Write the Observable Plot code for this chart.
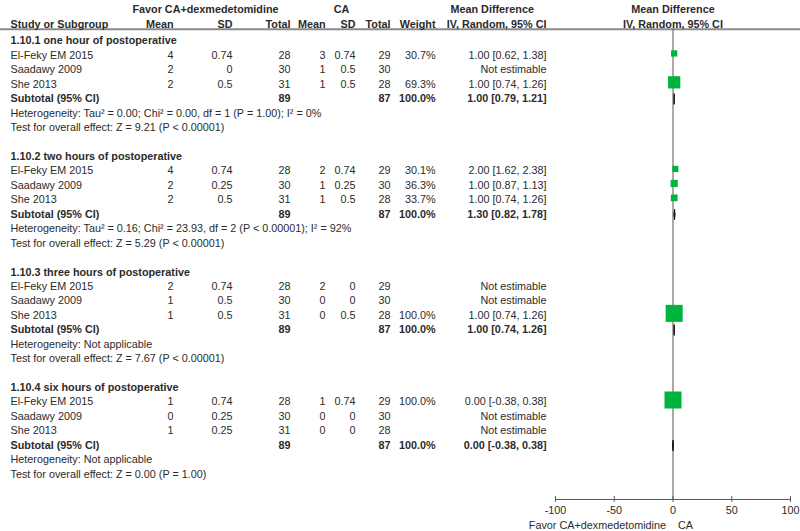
<!DOCTYPE html>
<html>
<head>
<meta charset="utf-8">
<script src="https://cdn.jsdelivr.net/npm/d3@7"></script>
<script src="https://cdn.jsdelivr.net/npm/@observablehq/plot@0.6"></script>
<style>
  html, body { margin: 0; padding: 0; background: #fff; }
  #chart svg { display: block; }
</style>
</head>
<body>
<div id="chart"></div>
<script>
// ---------------- DATA ----------------
const sections = [
  "1.10.1 one hour of postoperative",
  "1.10.2 two hours of postoperative",
  "1.10.3 three hours of postoperative",
  "1.10.4 six hours of postoperative"
];
const studies = ["El-Feky EM 2015", "Saadawy 2009", "She 2013"];

// per study row, ordered section by section
const expMean  = [4, 2, 2,   4, 2, 2,      2, 1, 1,    1, 0, 1];
const expSD    = [0.74, 0, 0.5,  0.74, 0.25, 0.5,  0.74, 0.5, 0.5,  0.74, 0.25, 0.25];
const expTotal = [28, 30, 31,  28, 30, 31,  28, 30, 31,  28, 30, 31];
const ctlMean  = [3, 1, 1,   2, 1, 1,      2, 0, 0,    1, 0, 0];
const ctlSD    = [0.74, 0.5, 0.5,  0.74, 0.25, 0.5,  0, 0, 0.5,  0.74, 0, 0];
const ctlTotal = [29, 30, 28,  29, 30, 28,  29, 30, 28,  29, 30, 28];
const weight   = [30.7, null, 69.3,  30.1, 36.3, 33.7,  null, null, 100.0,  100.0, null, null];
const md       = [1.00, null, 1.00,  2.00, 1.00, 1.00,  null, null, 1.00,  0.00, null, null];
const mdLo     = [0.62, null, 0.74,  1.62, 0.87, 0.74,  null, null, 0.74,  -0.38, null, null];
const mdHi     = [1.38, null, 1.26,  2.38, 1.13, 1.26,  null, null, 1.26,  0.38, null, null];

// subtotals per section
const subExpTotal = [89, 89, 89, 89];
const subCtlTotal = [87, 87, 87, 87];
const subWeight   = [100.0, 100.0, 100.0, 100.0];
const subMD = [1.00, 1.30, 1.00, 0.00];
const subLo = [0.79, 0.82, 0.74, -0.38];
const subHi = [1.21, 1.78, 1.26, 0.38];
const heterogeneity = [
  "Heterogeneity: Tau² = 0.00; Chi² = 0.00, df = 1 (P = 1.00); I² = 0%",
  "Heterogeneity: Tau² = 0.16; Chi² = 23.93, df = 2 (P < 0.00001); I² = 92%",
  "Heterogeneity: Not applicable",
  "Heterogeneity: Not applicable"
];
const overallEffect = [
  "Test for overall effect: Z = 9.21 (P < 0.00001)",
  "Test for overall effect: Z = 5.29 (P < 0.00001)",
  "Test for overall effect: Z = 7.67 (P < 0.00001)",
  "Test for overall effect: Z = 0.00 (P = 1.00)"
];

const axisTicks = [-100, -50, 0, 50, 100];
const favorLeft = "Favor CA+dexmedetomidine";
const favorRight = "CA";

// ---------------- LAYOUT (pixel columns, row indices) ----------------
const ROWS_PER_SECTION = 8;
const AXIS_ROW = 31.75;
const HEADER_LINE_ROW = -0.82;
const cols = {
  label: 10, expMean: 173, expSD: 232, expTotal: 290,
  ctlMean: 325, ctlSD: 355, ctlTotal: 390, weight: 435, ci: 546
};
const green = "#00b33c";
const ink = "#2b2b2b";
const font = "'Liberation Sans', Arial, sans-serif";
const FS = 10.8;

// ---------------- BUILD TABLE ----------------
const fmtCI = (m, l, h) => m == null ? "Not estimable" : `${m.toFixed(2)} [${l.toFixed(2)}, ${h.toFixed(2)}]`;
const studyRows = [];
const sectionRows = [];
sections.forEach((s, si) => {
  const base = si * ROWS_PER_SECTION;
  studies.forEach((name, j) => {
    const k = si * studies.length + j;
    studyRows.push({
      section: si, row: base + 1 + j, name,
      expMean: expMean[k], expSD: expSD[k], expTotal: expTotal[k],
      ctlMean: ctlMean[k], ctlSD: ctlSD[k], ctlTotal: ctlTotal[k],
      weight: weight[k], md: md[k], lo: mdLo[k], hi: mdHi[k],
      weightText: weight[k] == null ? "" : weight[k].toFixed(1) + "%",
      ciText: fmtCI(md[k], mdLo[k], mdHi[k])
    });
  });
  sectionRows.push({
    section: si, title: s, headRow: base, subRow: base + 4, hetRow: base + 5, testRow: base + 6,
    expTotal: subExpTotal[si], ctlTotal: subCtlTotal[si],
    weightText: subWeight[si].toFixed(1) + "%",
    md: subMD[si], lo: subLo[si], hi: subHi[si],
    ciText: fmtCI(subMD[si], subLo[si], subHi[si]),
    het: heterogeneity[si], test: overallEffect[si]
  });
});

const DIAMOND_H = 0.36;
const diamondPts = sectionRows.flatMap(d => [
  {section: d.section, x: d.lo, y: d.subRow},
  {section: d.section, x: d.md, y: d.subRow - DIAMOND_H},
  {section: d.section, x: d.hi, y: d.subRow},
  {section: d.section, x: d.md, y: d.subRow + DIAMOND_H}
]);

const col = (key, data, valueFn, opts = {}) => Plot.text(data, {
  y: opts.y || "row", text: valueFn, frameAnchor: "left", dx: cols[key],
  textAnchor: key === "label" ? "start" : "end", lineAnchor: "middle",
  fontWeight: opts.bold ? "bold" : "normal", fill: ink
});

const estimable = studyRows.filter(d => d.md != null);

const headers = [
  {t: "Favor CA+dexmedetomidine", x: 205, a: "middle", r: -2.18},
  {t: "CA", x: 341, a: "middle", r: -2.18},
  {t: "Mean Difference", x: 450, a: "start", r: -2.18},
  {t: "Study or Subgroup", x: cols.label, a: "start", r: -1.14},
  {t: "Mean", x: cols.expMean, a: "end", r: -1.14},
  {t: "SD", x: cols.expSD, a: "end", r: -1.14},
  {t: "Total", x: cols.expTotal, a: "end", r: -1.14},
  {t: "Mean", x: cols.ctlMean, a: "end", r: -1.14},
  {t: "SD", x: cols.ctlSD, a: "end", r: -1.14},
  {t: "Total", x: cols.ctlTotal, a: "end", r: -1.14},
  {t: "Weight", x: cols.weight, a: "end", r: -1.14},
  {t: "IV, Random, 95% CI", x: cols.ci, a: "end", r: -1.14}
];
const rightHeaders = [
  {t: "Mean Difference", r: -2.18},
  {t: "IV, Random, 95% CI", r: -1.14}
];

const chart = Plot.plot({
  width: 800,
  height: 531,
  margin: 0,
  style: {fontFamily: font, fontSize: FS + "px", background: "#fff", color: ink},
  x: {domain: [-100, 100], range: [555, 790], axis: null},
  y: {domain: [0, 30], range: [40.5, 473.7], axis: null},
  r: {type: "linear", domain: [0, 100], range: [0.85, 9.6]},
  marks: [
    // header underline
    Plot.ruleY([HEADER_LINE_ROW], {stroke: "#8a8a8a", strokeWidth: 2}),
    // headers (table part)
    ...headers.map(h => Plot.text([h], {
      y: "r", text: "t", frameAnchor: "left", dx: h.x, textAnchor: h.a,
      lineAnchor: "middle", fontWeight: "bold", fill: ink
    })),
    Plot.text(rightHeaders, {x: 0, y: "r", text: "t", textAnchor: "middle", lineAnchor: "middle", fontWeight: "bold", fill: ink}),
    // zero line
    Plot.ruleX([0], {y1: HEADER_LINE_ROW, y2: AXIS_ROW, stroke: "#555", strokeWidth: 1}),
    // section titles
    Plot.text(sectionRows, {y: "headRow", text: "title", frameAnchor: "left", dx: cols.label, textAnchor: "start", lineAnchor: "middle", fontWeight: "bold", fill: ink}),
    // study rows
    col("label", studyRows, "name"),
    col("expMean", studyRows, "expMean"),
    col("expSD", studyRows, "expSD"),
    col("expTotal", studyRows, "expTotal"),
    col("ctlMean", studyRows, "ctlMean"),
    col("ctlSD", studyRows, "ctlSD"),
    col("ctlTotal", studyRows, "ctlTotal"),
    col("weight", studyRows, "weightText"),
    col("ci", studyRows, "ciText"),
    // subtotal rows
    col("label", sectionRows, () => "Subtotal (95% CI)", {y: "subRow", bold: true}),
    col("expTotal", sectionRows, "expTotal", {y: "subRow", bold: true}),
    col("ctlTotal", sectionRows, "ctlTotal", {y: "subRow", bold: true}),
    col("weight", sectionRows, "weightText", {y: "subRow", bold: true}),
    col("ci", sectionRows, "ciText", {y: "subRow", bold: true}),
    col("label", sectionRows, "het", {y: "hetRow"}),
    col("label", sectionRows, "test", {y: "testRow"}),
    // confidence intervals and weight squares
    Plot.ruleY(estimable, {y: "row", x1: "lo", x2: "hi", stroke: "#222", strokeWidth: 1, dy: -2}),
    Plot.dot(estimable, {x: "md", y: "row", r: "weight", symbol: "square", fill: green, stroke: null, dy: -2}),
    // subtotal diamonds
    Plot.line(diamondPts, {x: "x", y: "y", z: "section", curve: "linear-closed", fill: "#111", stroke: "#111", strokeWidth: 1}),
    // axis
    Plot.ruleY([AXIS_ROW], {x1: -100, x2: 100, stroke: "#555", strokeWidth: 1}),
    Plot.ruleX(axisTicks, {x: d => d, y1: AXIS_ROW - 0.2, y2: AXIS_ROW + 0.2, stroke: "#555", strokeWidth: 1}),
    Plot.text(axisTicks, {x: d => d, y: AXIS_ROW, text: d => String(d), dy: 11, lineAnchor: "middle", fill: ink}),
    Plot.text([favorLeft], {x: 0, y: AXIS_ROW, text: d => d, dy: 26, dx: -7, textAnchor: "end", lineAnchor: "middle", fill: ink}),
    Plot.text([favorRight], {x: 0, y: AXIS_ROW, text: d => d, dy: 26, dx: 5, textAnchor: "start", lineAnchor: "middle", fill: ink})
  ]
});
document.getElementById("chart").appendChild(chart);
</script>
</body>
</html>
